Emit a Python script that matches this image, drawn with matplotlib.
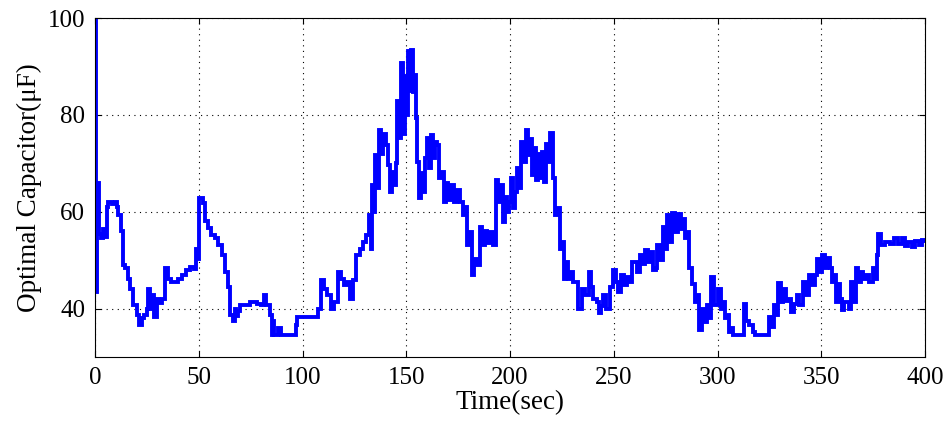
import matplotlib.pyplot as plt

# optimal capacitor value over the run (stepwise, seconds / uF)
time_sec = [0, 0.4, 1.0, 2.0, 3.0, 4.0, 5.0, 5.6, 6.5, 8.0, 9.5, 10.5, 11.0, 12.5,
            13.7, 14.5, 16.0, 17.0, 18.5, 20.0, 21.0, 22.5, 23.5, 25.0, 25.7, 26.5,
            27.5, 28.0, 28.5, 29.7, 31.0, 32.5, 33.7, 35.0, 36.5, 38.5, 40.0, 42.0,
            44.0, 46.0, 47.5, 48.6, 49.3, 50.3, 52.0, 53.0, 54.5, 56.0, 58.0, 59.5,
            61.0, 62.5, 64.0, 65.3, 66.5, 67.5, 68.0, 69.0, 70.0, 72.0, 74.5, 78.0,
            80.0, 81.5, 82.5, 84.5, 85.5, 86.0, 86.5, 88.0, 89.5, 97.0, 97.5, 107.5,
            109.0, 110.5, 112.0, 113.5, 115.0, 117.0, 118.5, 120.0, 121.5, 123.0,
            124.5, 126.0, 127.5, 129.0, 130.5, 132.0, 132.8, 133.3, 134.3, 135.0,
            136.0, 137.0, 138.0, 139.0, 140.0, 141.0, 142.0, 143.0, 144.0, 145.0,
            145.6, 146.5, 147.5, 148.5, 149.3, 150.0, 150.8, 151.6, 152.3, 153.2,
            154.0, 154.6, 155.2, 156.0, 157.0, 158.0, 159.0, 160.0, 161.0, 162.0,
            163.0, 164.0, 165.0, 166.0, 167.0, 168.0, 169.0, 170.0, 171.5, 173.0,
            174.5, 176.0, 177.5, 178.5, 179.3, 180.5, 181.5, 182.5, 184.0, 185.3,
            186.5, 188.0, 189.0, 190.5, 192.0, 193.2, 194.0, 195.0, 196.5, 197.5,
            198.5, 199.5, 200.5, 201.5, 202.5, 203.5, 204.5, 205.5, 206.5, 207.5,
            208.5, 209.5, 210.5, 211.5, 212.5, 213.5, 214.5, 215.5, 216.5, 217.5,
            218.5, 219.5, 220.5, 221.3, 221.8, 223.0, 224.0, 225.3, 226.0, 227.0,
            228.0, 229.0, 230.5, 232.5, 233.0, 234.5, 236.0, 238.0, 238.8, 240.0,
            241.8, 243.0, 244.0, 245.0, 246.5, 248.0, 249.8, 251.0, 252.0, 253.5,
            255.0, 256.5, 258.0, 259.0, 261.0, 262.5, 264.0, 265.0, 266.5, 268.0,
            269.0, 270.5, 271.0, 272.5, 273.5, 274.5, 275.5, 277.0, 278.0, 279.5,
            281.0, 282.5, 283.5, 284.5, 285.5, 286.5, 287.5, 289.0, 290.0, 291.0,
            292.5, 293.5, 295.0, 296.0, 297.0, 298.5, 300.0, 301.5, 302.5, 303.5,
            305.0, 305.5, 306.5, 307.5, 313.0, 313.5, 315.0, 317.0, 318.0, 325.0,
            326.0, 327.0, 328.5, 329.0, 330.5, 331.5, 333.0, 334.5, 335.5, 337.0,
            338.2, 339.5, 341.0, 342.5, 344.0, 345.5, 347.0, 348.0, 349.0, 350.5,
            352.0, 353.0, 354.0, 355.0, 356.0, 357.0, 358.5, 359.0, 360.0, 361.0,
            363.5, 364.5, 365.5, 366.5, 367.5, 369.0, 370.0, 371.5, 373.0, 375.0,
            376.0, 377.0, 377.5, 379.0, 380.5, 383.0, 385.0, 387.0, 389.0, 390.5,
            392.0, 393.5, 395.0, 397.0, 398.5, 400.0]
cap_uF = [100, 43.5, 65.9, 55.5, 54.6, 56.5, 54.8, 61, 62.1, 61.5, 62, 61, 59.3, 56,
          49, 48.3, 46.2, 44.1, 40.7, 38.6, 36.6, 38, 38.6, 40, 44, 40,
          41.4, 42.8, 38.3, 42, 41.2, 42, 48.3, 46.2, 45.5, 45.5, 46.2, 46.9,
          47.9, 48.6, 48.2, 52.4, 50.3, 62.8, 61.7, 58, 56.6, 55.2, 54.5, 53.1,
          51, 47.6, 44.5, 38.6, 37.5, 40, 38.5, 39.5, 40.7, 40.7, 41.4, 41,
          40.7, 42.8, 40.7, 38.6, 34.5, 37.5, 34.5, 35.9, 34.6, 36.6, 38.3, 40,
          45.9, 44.1, 42.8, 40, 41.4, 47.6, 46.2, 44.8, 45.5, 42,
          45.9, 51, 52.4, 53.8, 55.2, 59.3, 52.4, 65.5, 60, 71.7,
          65, 76.9, 72, 76, 73.8, 69.7, 64.1, 68.3, 65.5, 70,
          82.8, 75.2, 90.7, 76, 88, 80, 93.1, 85, 93.4, 84.8,
          88.3, 79.3, 70.3, 62.8, 68, 64, 71, 75.2, 69, 75.9,
          71, 74.5, 73.8, 66.9, 68.3, 62, 66, 62.5, 65.5, 62,
          64.5, 62, 59.3, 61, 53.1, 55.9, 46.9, 50.3, 49, 56.9,
          53.1, 56, 53.5, 55.9, 53.1, 66.6, 62, 65.5, 57.9, 63,
          60, 62, 66.9, 60.7, 64.1, 69, 64.8, 74.5, 70.3, 76.9,
          71.7, 75, 67.6, 73.1, 66.5, 72, 67, 72.4, 66.2, 74,
          70.3, 76.2, 67, 66.9, 59.3, 60.7, 52.4, 53.8, 46.2, 49.7,
          46.2, 47.6, 45.5, 45.5, 40, 44.1, 42.8, 47.6, 44.5, 42,
          41.4, 39, 40.5, 42.8, 40, 44.5, 47.9, 45.5, 43.4, 46.9,
          44.8, 46.5, 45.5, 49.7, 47.6, 51, 49.3, 52, 49.7, 51.7,
          47.9, 48.3, 53.1, 50, 56.9, 52.4, 59.3, 53.8, 59.7, 55.9,
          59.5, 56.5, 58.6, 54.5, 55.9, 48.3, 45, 41.4, 42.8, 35.5,
          40, 37.2, 40.7, 38, 46.6, 40.7, 44.1, 40, 41.4, 38,
          38.6, 35.2, 35.9, 34.5, 41, 37.4, 36.6, 35.2, 34.5, 38.3,
          36.2, 40.7, 38.6, 45.2, 41.4, 44, 41.5, 42, 39.3, 41,
          42.8, 40.7, 45.5, 42.8, 46.9, 44.8, 46.9, 50.3, 47.6, 51,
          48.3, 50.5, 48.3, 45.5, 47, 41.4, 45, 42, 39.7, 41.4,
          40, 45.5, 41.4, 48.3, 45.5, 47.6, 46.2, 46.9, 45.5, 48.3,
          46.2, 51, 55.5, 53.1, 53.8, 53.4, 54.5, 53.4, 54.5, 53,
          53.8, 52.8, 54, 53.1, 54.1, 54]

x_ticks = [0, 50, 100, 150, 200, 250, 300, 350, 400]
y_ticks = [40, 60, 80, 100]

plt.rcParams['font.family'] = ['Liberation Serif', 'DejaVu Serif']

fig = plt.figure(figsize=(9.5, 4.25), dpi=100)
ax = fig.add_axes([0.1, 0.16, 0.8737, 0.7976])

ax.plot(time_sec, cap_uF, drawstyle='steps-post', color='#0000ff', linewidth=2.8,
        solid_joinstyle='miter')

ax.set_xlim(0, 400)
ax.set_ylim(30, 100)
ax.set_xticks(x_ticks)
ax.set_yticks(y_ticks)

# matlab-like box: ticks inside on all four sides, dotted grid
ax.tick_params(direction='in', length=4.5, width=0.8, top=True, right=True,
               labelsize=18, pad=7)
ax.grid(True, color='black', linestyle=(0, (1, 4)), linewidth=0.8)
for sp in ax.spines.values():
    sp.set_linewidth(0.8)

ax.set_xlabel('Time(sec)', fontsize=19.5, labelpad=1)
ax.set_ylabel('Optimal Capacitor(μF)', fontsize=19.5, labelpad=4)

fig.savefig('out.png', dpi=100)
